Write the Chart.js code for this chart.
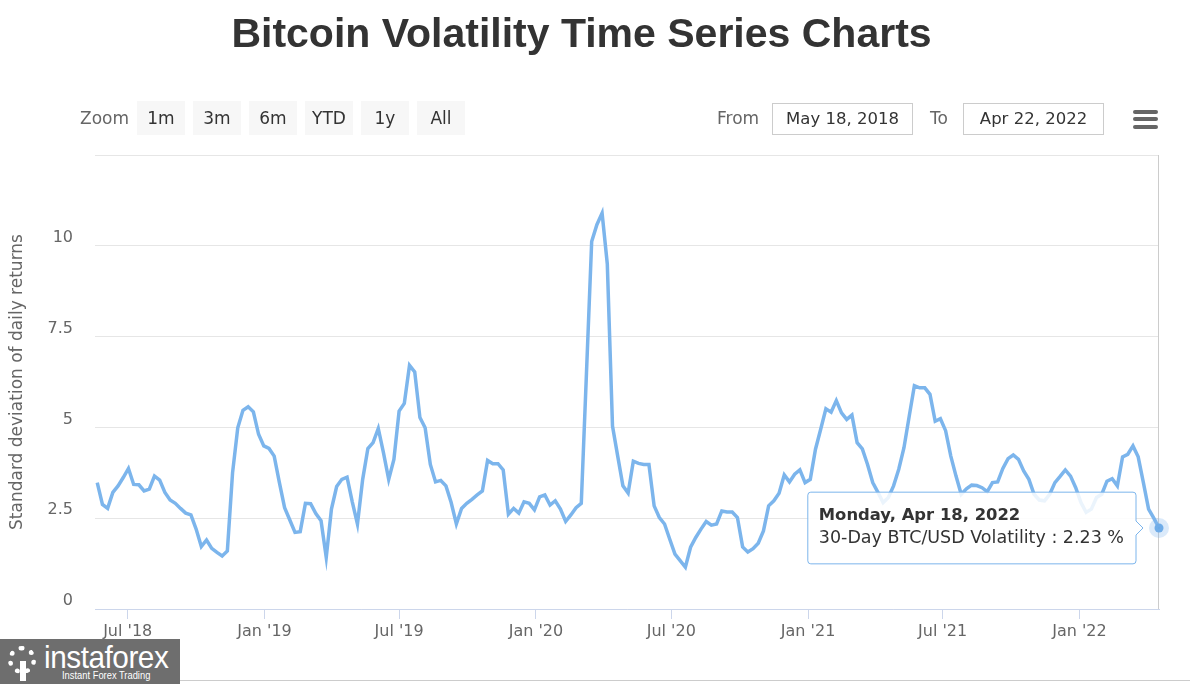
<!DOCTYPE html>
<html><head><meta charset="utf-8">
<script src="https://cdn.jsdelivr.net/npm/chart.js@4.4.0/dist/chart.umd.min.js"></script>
<style>
html,body{margin:0;padding:0;background:#fff;}
#wrap{position:relative;width:1200px;height:684px;overflow:hidden;font-family:'DejaVu Sans',sans-serif;}
#c{position:absolute;left:0;top:0;}
.title{position:absolute;left:0;width:1163px;top:8px;text-align:center;font:bold 41px 'Liberation Sans',Arial,sans-serif;color:#333;line-height:50px;white-space:nowrap;}
.lbl{position:absolute;font-size:17px;color:#666;line-height:20px;top:108px;}
.btn{position:absolute;top:101px;width:48px;height:34px;background:#f7f7f7;color:#333;font-size:17px;line-height:34px;text-align:center;}
.inp{position:absolute;top:103px;width:139px;height:30px;border:1px solid #ccc;color:#333;font-size:16.5px;line-height:30px;text-align:center;background:#fff;}
.bar{position:absolute;left:1133px;width:25px;height:4px;border-radius:2px;background:#666;}
.logo{position:absolute;left:0;top:639px;width:180px;height:45px;background:#6e6e6e;color:#fff;overflow:hidden;}
.logo .big{position:absolute;left:44px;top:1px;font:32px 'Liberation Sans',sans-serif;line-height:34px;letter-spacing:-0.5px;transform:scaleX(0.93);transform-origin:left top;white-space:nowrap;}
.logo .small{position:absolute;left:62px;top:30px;font:11px 'Liberation Sans',sans-serif;line-height:13px;transform:scaleX(0.85);transform-origin:left top;white-space:nowrap;}
.logo .gear{position:absolute;left:8px;top:7px;width:18px;height:18px;border:5px dotted #fff;border-radius:50%;}
.logo .stem{position:absolute;left:20px;top:22px;width:6px;height:20px;background:#fff;}
.navline{position:absolute;left:180px;top:680px;width:1010px;height:1px;background:#ccc;}
</style></head>
<body>
<div id="wrap">
  <canvas id="c" width="1200" height="684"></canvas>
  <div class="title">Bitcoin Volatility Time Series Charts</div>
  <div class="lbl" style="left:80px;">Zoom</div>
  <div class="btn" style="left:137px;">1m</div>
  <div class="btn" style="left:193px;">3m</div>
  <div class="btn" style="left:249px;">6m</div>
  <div class="btn" style="left:305px;">YTD</div>
  <div class="btn" style="left:361px;">1y</div>
  <div class="btn" style="left:417px;">All</div>
  <div class="lbl" style="left:717px;">From</div>
  <div class="inp" style="left:772px;">May 18, 2018</div>
  <div class="lbl" style="left:930px;">To</div>
  <div class="inp" style="left:963px;">Apr 22, 2022</div>
  <div class="bar" style="top:110px;"></div>
  <div class="bar" style="top:117px;"></div>
  <div class="bar" style="top:125px;"></div>
  <div class="navline"></div>
  <div class="logo"><div class="gear"></div><div class="stem"></div><div class="big">instaforex</div><div class="small">Instant Forex Trading</div></div>
</div>
<script>
// ---- data (weekly, Mondays) ----
const firstWeek = '2018-05-21';
const rangeFrom = '2018-05-18';
const volatility = [
 3.48,2.88,2.77,3.21,3.39,3.62,3.87,3.43,3.42,3.25,
 3.30,3.66,3.55,3.21,3.00,2.91,2.77,2.64,2.59,2.20,
 1.72,1.90,1.67,1.56,1.46,1.60,3.75,4.99,5.47,5.57,
 5.43,4.81,4.49,4.42,4.21,3.48,2.79,2.45,2.11,2.13,
 2.91,2.90,2.63,2.43,1.42,2.75,3.37,3.57,3.63,2.95,
 2.34,3.57,4.42,4.58,4.97,4.30,3.57,4.12,5.45,5.66,
 6.71,6.53,5.27,4.99,3.98,3.50,3.54,3.39,2.93,2.34,
 2.77,2.91,3.02,3.14,3.25,4.09,4.00,4.00,3.83,2.61,
 2.77,2.64,2.95,2.91,2.73,3.09,3.14,2.86,2.98,2.75,
 2.41,2.59,2.79,2.91,6.50,10.12,10.58,10.90,9.50,5.04,
 4.21,3.39,3.19,4.07,4.01,3.98,3.98,2.84,2.52,2.34,
 1.92,1.51,1.33,1.15,1.70,1.97,2.20,2.41,2.31,2.34,
 2.70,2.67,2.67,2.52,1.71,1.57,1.66,1.81,2.15,2.84,
 2.98,3.19,3.69,3.50,3.71,3.83,3.48,3.57,4.40,4.95,
 5.51,5.42,5.74,5.40,5.22,5.34,4.58,4.41,3.98,3.48,
 3.21,2.93,3.07,3.39,3.85,4.44,5.30,6.15,6.09,6.09,
 5.91,5.17,5.24,4.91,4.21,3.66,3.16,3.31,3.41,3.40,
 3.34,3.23,3.48,3.50,3.87,4.14,4.24,4.12,3.80,3.57,
 3.16,3.00,2.98,3.16,3.48,3.65,3.83,3.66,3.34,2.93,
 2.66,2.75,3.07,3.16,3.52,3.59,3.39,4.19,4.26,4.49,
 4.19,3.48,2.75,2.50,2.23
];
const xTickDates = ['2018-07-01','2019-01-01','2019-07-01','2020-01-01','2020-07-01','2021-01-01','2021-07-01','2022-01-01'];
const xTickLabels = ["Jul '18","Jan '19","Jul '19","Jan '20","Jul '20","Jan '21","Jul '21","Jan '22"];
const yTickValues = [0, 2.5, 5, 7.5, 10, 12.5];
const yTickLabels = ['0', '2.5', '5', '7.5', '10', ''];
const weekdayNames = ['Sunday','Monday','Tuesday','Wednesday','Thursday','Friday','Saturday'];
const monthNames = ['Jan','Feb','Mar','Apr','May','Jun','Jul','Aug','Sep','Oct','Nov','Dec'];
const seriesName = '30-Day BTC/USD Volatility';

const DAY = 86400000;
const t0 = Date.parse(firstWeek);
const weekDates = volatility.map((_, i) => t0 + i * 7 * DAY);
const points = volatility.map((v, i) => ({ x: weekDates[i], y: v }));
const xTickMs = xTickDates.map(d => Date.parse(d));

function fmtDate(ms) {
  const d = new Date(ms);
  return weekdayNames[d.getUTCDay()] + ', ' + monthNames[d.getUTCMonth()] + ' ' + d.getUTCDate() + ', ' + d.getUTCFullYear();
}

const plotEdge = {
  id: 'plotEdge',
  beforeDatasetsDraw(chart) {
    const { ctx, chartArea: a } = chart;
    ctx.save();
    ctx.strokeStyle = '#cccccc';
    ctx.lineWidth = 1;
    const x = Math.round(a.right) - 0.5;
    ctx.beginPath(); ctx.moveTo(x, a.top); ctx.lineTo(x, a.bottom); ctx.stroke();
    ctx.restore();
  }
};

const chart = new Chart(document.getElementById('c'), {
  type: 'line',
  data: { datasets: [{
    label: seriesName,
    data: points,
    borderColor: '#7cb5ec',
    borderWidth: 3.5,
    pointRadius: 0,
    pointHoverRadius: 4.5,
    pointHoverBackgroundColor: '#6aa9e6',
    pointHoverBorderColor: 'rgba(124,181,236,0.28)',
    pointHoverBorderWidth: 11,
    tension: 0,
    fill: false,
    clip: false
  }]},
  options: {
    responsive: false,
    animation: false,
    events: [],
    layout: { padding: { left: 7, top: 155, right: 41, bottom: 0 } },
    plugins: {
      legend: { display: false },
      title: { display: false },
      tooltip: {
        enabled: true,
        backgroundColor: 'rgba(255,255,255,0.85)',
        borderColor: '#7cb5ec',
        borderWidth: 1,
        cornerRadius: 3,
        titleColor: '#333',
        bodyColor: '#333',
        titleFont: { family: 'DejaVu Sans', size: 16.4, weight: 'bold' },
        bodyFont: { family: 'DejaVu Sans', size: 17.5 },
        padding: { top: 14, bottom: 15, left: 11, right: 12 },
        titleMarginBottom: 2,
        displayColors: false,
        caretSize: 7,
        caretPadding: 16,
        xAlign: 'right',
        yAlign: 'center',
        callbacks: {
          title: items => fmtDate(items[0].parsed.x),
          label: item => seriesName + ' : ' + item.parsed.y.toFixed(2) + ' %'
        }
      }
    },
    scales: {
      x: {
        type: 'linear',
        min: Date.parse(rangeFrom),
        max: weekDates[weekDates.length - 1],
        afterBuildTicks: s => { s.ticks = xTickMs.map(v => ({ value: v })); },
        afterFit: s => { s.height = 75; },
        grid: { drawOnChartArea: false, drawTicks: true, tickLength: 10, color: '#ccd6eb' },
        border: { color: '#ccd6eb', width: 1 },
        ticks: {
          color: '#666', font: { family: 'DejaVu Sans', size: 16 }, padding: 3,
          maxRotation: 0, autoSkip: false,
          callback: v => xTickLabels[xTickMs.indexOf(v)]
        }
      },
      y: {
        min: 0, max: 12.5,
        afterBuildTicks: s => { s.ticks = yTickValues.map(v => ({ value: v })); },
        afterFit: s => { s.width = 88; },
        grid: { color: '#e6e6e6', drawTicks: false },
        border: { display: false },
        ticks: {
          color: '#666', font: { family: 'DejaVu Sans', size: 16 }, padding: 22, labelOffset: -8,
          callback: v => yTickLabels[yTickValues.indexOf(v)]
        },
        title: { display: true, text: 'Standard deviation of daily returns', color: '#666',
          font: { family: 'DejaVu Sans', size: 17 }, padding: 0 }
      }
    }
  },
  plugins: [plotEdge]
});

const lastIdx = points.length - 1;
const active = [{ datasetIndex: 0, index: lastIdx }];
chart.setActiveElements(active);
const meta = chart.getDatasetMeta(0).data[lastIdx];
chart.tooltip.setActiveElements(active, { x: meta.x, y: meta.y });
chart.update('none');
</script>
</body></html>
